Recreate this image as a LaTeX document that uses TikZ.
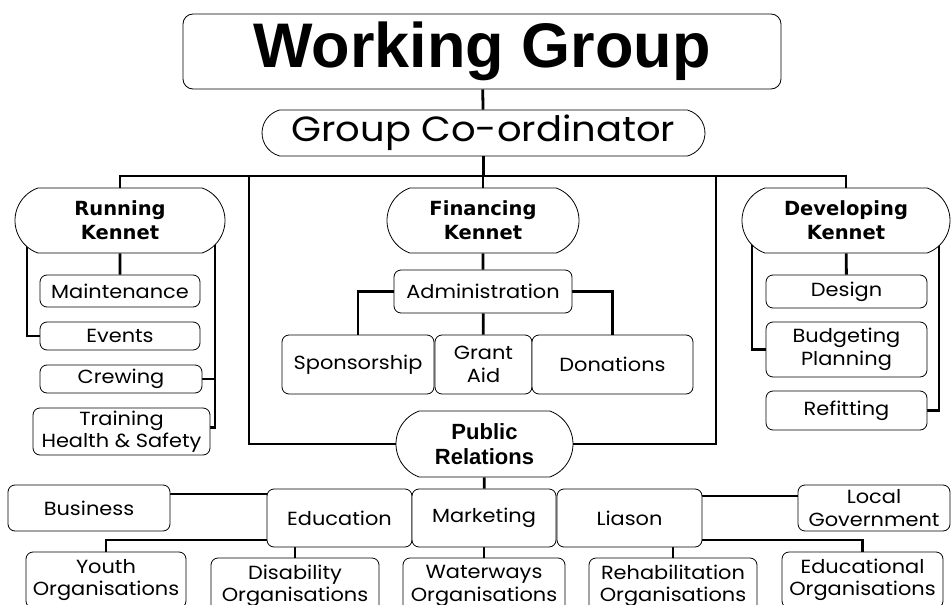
\documentclass[tikz,border=0pt]{standalone}
\usepackage{fontspec}
\setmainfont{Poppins}[FakeStretch=1.1]
\newfontfamily\headfont{Liberation Sans}
\newfontfamily\kennetfont{DejaVu Sans}
\usetikzlibrary{shapes.misc,backgrounds}

\begin{document}
\begin{tikzpicture}[x=1pt,y=-1pt]
	\tikzstyle{every node}=[font=\fontsize{19}{22.5}\selectfont, align=center, inner sep=0pt]
	\tikzstyle{box}=[draw, fill=white, rounded corners=7pt, line width=0.8pt]
	\tikzstyle{pill}=[draw, fill=white, rounded rectangle, rounded rectangle arc length=140, line width=0.8pt, font=\kennetfont\fontsize{19.5}{24}\selectfont\bfseries]
	\tikzstyle{link}=[line width=2.8pt]

	\useasboundingbox (0,0) rectangle (951,605);
	\clip (0,0) rectangle (951,605);

	% top of the tree
	\node[box, rounded corners=10pt, minimum width=598, minimum height=75, font=\headfont\fontsize{63}{63}\selectfont\bfseries] (wg) at (482,51.5) {Working Group};
	\node[pill, rounded rectangle arc length=150, minimum width=443, minimum height=46, font=\fontsize{35}{36}\selectfont] (gc) at (483.5,133) {Group Co-ordinator};
	\coordinate (bar) at (483,176);
	\coordinate (boxl) at (249,176);
	\coordinate (boxr) at (716,176);

	% the three branches
	\node[pill, minimum width=210, minimum height=65] (rk) at (120,220.5) {Running\\Kennet};
	\node[pill, minimum width=192, minimum height=65] (fk) at (483,220.5) {Financing\\Kennet};
	\node[pill, minimum width=208, minimum height=65] (dk) at (846,220.5) {Developing\\Kennet};

	\node[box, minimum width=160, minimum height=32] (maint) at (120,291) {Maintenance};
	\node[box, minimum width=160, minimum height=28] (events) at (120,336) {Events};
	\node[box, minimum width=162, minimum height=28] (crew) at (121,379) {Crewing};
	\node[box, minimum width=177, minimum height=47] (train) at (121.5,431.5) {Training\\Health \& Safety};

	\node[box, minimum width=178, minimum height=43] (admin) at (483,291.5) {Administration};
	\node[box, minimum width=152, minimum height=59] (spons) at (358,364.5) {Sponsorship};
	\node[box, minimum width=97, minimum height=59] (grant) at (483.5,364.5) {Grant\\Aid};
	\node[box, minimum width=161, minimum height=59] (donat) at (612.5,364.5) {Donations};

	\node[box, minimum width=161, minimum height=33] (design) at (846.5,291.5) {Design};
	\node[box, minimum width=161, minimum height=55] (budget) at (846.5,349.5) {Budgeting\\Planning};
	\node[box, minimum width=161, minimum height=39] (refit) at (846.5,410.5) {Refitting};

	% public relations
	\node[pill, minimum width=177, minimum height=66, font=\headfont\fontsize{22}{25}\selectfont\bfseries] (pr) at (484.5,444) {Public\\Relations};

	\node[box, minimum width=162, minimum height=46] (business) at (89,508) {Business};
	\node[box, minimum width=145, minimum height=58] (educ) at (339.5,518) {Education};
	\node[box, minimum width=144, minimum height=58] (market) at (484,518) {Marketing};
	\node[box, minimum width=145, minimum height=58] (liason) at (629.5,518) {Liason};
	\node[box, minimum width=152, minimum height=46] (localgov) at (874,508) {Local\\Government};

	\node[box, minimum width=160, minimum height=56] (youth) at (106,580) {Youth\\Organisations};
	\node[box, minimum width=168, minimum height=56] (disab) at (295,586) {Disability\\Organisations};
	\node[box, minimum width=162, minimum height=56] (water) at (484,586) {Waterways\\Organisations};
	\node[box, minimum width=168, minimum height=56] (rehab) at (673,586) {Rehabilitation\\Organisations};
	\node[box, minimum width=161, minimum height=56] (eduorg) at (862.5,580) {Educational\\Organisations};

	\begin{pgfonlayer}{background}
	\begin{scope}[link]
	\draw (wg) -- (gc);
	\draw (gc.south) -- (gc.south |- bar);
	\draw (rk.north) |- (dk.north |- bar) -- (dk.north);
	\draw (fk.north) -- (fk.north |- bar);
	\draw (pr.west) -| (boxl);
	\draw (pr.east) -| (boxr);

	\draw (rk) -- (maint);
	\draw (events.west) -| ([xshift=-93pt]rk.center);
	\draw (crew.east) -| ([xshift=95pt]rk.center);
	\draw ([yshift=4pt]train.east) -| ([xshift=95pt]rk.center);

	\draw (fk) -- (admin);
	\draw (admin) -- (grant);
	\draw (admin.west) -| (spons.north);
	\draw (admin.east) -| (donat.north);

	\draw (dk) -- (design);
	\draw (budget.west) -| ([xshift=-94pt]dk.center);
	\draw (refit.east) -| ([xshift=93pt]dk.center);

	\draw (pr) -- (market);
	\draw ([yshift=14pt]business.east) -- ([yshift=14pt]business.east -| educ.west);
	\draw ([yshift=-22pt]educ.west) -| (youth.north);
	\draw (disab.north) -- (disab.north |- educ.south);
	\draw (market) -- (water);
	\draw (rehab.north) -- (rehab.north |- liason.south);
	\draw ([yshift=12pt]localgov.west) -- ([yshift=12pt]localgov.west -| liason.east);
	\draw ([yshift=-22pt]liason.east) -| (eduorg.north);
	\end{scope}
	\end{pgfonlayer}
\end{tikzpicture}
\end{document}
